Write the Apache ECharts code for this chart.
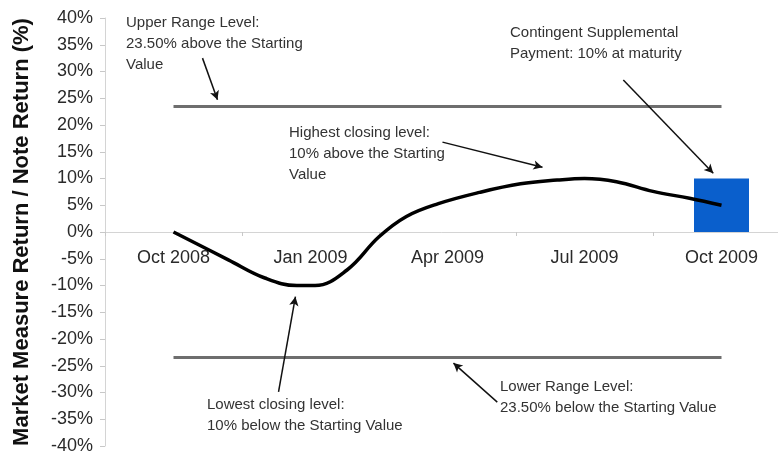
<!DOCTYPE html>
<html>
<head>
<meta charset="utf-8">
<script src="https://cdn.jsdelivr.net/npm/echarts@6/dist/echarts.min.js"></script>
<style>
  html, body { margin: 0; padding: 0; background: #fff; }
  #chart { width: 778px; height: 457px; }
</style>
</head>
<body>
<div id="chart"></div>
<script>
// quarter labels on the x axis
var quarters = ['Oct 2008', 'Jan 2009', 'Apr 2009', 'Jul 2009', 'Oct 2009']
// hypothetical market measure path, months since Oct 2008 -> return (%)
var pathMonths = [0, 1.2, 2.0, 2.7, 3.1, 3.8, 4.5, 5.1, 5.8, 6.7, 7.6, 8.4, 9.0, 9.7, 10.5, 11.3, 12]
var pathReturns = [0, -5.2, -8.6, -10, -10, -7.1, -0.9, 2.9, 5.3, 7.4, 9.0, 9.7, 10, 9.4, 7.6, 6.3, 5]
// contingent supplemental payment bar
var paymentValues = [null, null, null, null, 10]
var upperRange = 23.5
var lowerRange = -23.5
var rangeStart = 0
var rangeEnd = 12
var yTicks = { min: -40, max: 40, step: 5 }

var FONT = '"Liberation Sans", Arial, sans-serif'
var PLOT_H = 428

var chart = echarts.init(document.getElementById('chart'))

var pathData = pathMonths.map(function(m, i) {
  return [m, pathReturns[i]]
})

// arrow helper, coords in (months, %)
function arrow(x1, y1, x2, y2) {
  return [{ coord: [x1, y1] }, { coord: [x2, y2] }]
}

var textStyle = {
  fontFamily: FONT,
  fontSize: 15,
  fill: '#333',
  lineHeight: 21
}

function note(left, top, text) {
  return {
    type: 'text',
    left: left,
    top: top,
    style: Object.assign({ text: text }, textStyle)
  }
}

chart.setOption({
  animation: false,
  grid: {
    left: 105,
    top: 18,
    width: 685,
    height: PLOT_H,
    outerBoundsMode: 'none',
    containLabel: false
  },
  xAxis: [{
    type: 'category',
    data: quarters,
    boundaryGap: true,
    offset: -PLOT_H / 2, // sit on the 0% line
    axisLine: { onZero: false, lineStyle: { color: '#d4d4d4', width: 1 } },
    axisTick: { show: true, length: 4, lineStyle: { color: '#c8c8c8' } },
    axisLabel: {
      fontFamily: FONT,
      fontSize: 18,
      color: '#2a2a2a',
      margin: 17
    },
    splitLine: { show: false }
  }, {
    type: 'value',
    min: -1.5,
    max: 13.5,
    show: false
  }],
  yAxis: {
    type: 'value',
    min: yTicks.min,
    max: yTicks.max,
    interval: yTicks.step,
    name: 'Market Measure Return / Note Return (%)',
    nameLocation: 'middle',
    nameGap: 72,
    nameTextStyle: {
      fontFamily: FONT,
      fontSize: 22,
      fontWeight: 'bold',
      color: '#111'
    },
    axisLine: { show: true, onZero: false, lineStyle: { color: '#d4d4d4' } },
    axisTick: { show: true, length: 5, lineStyle: { color: '#c8c8c8' } },
    axisLabel: {
      fontFamily: FONT,
      fontSize: 18,
      color: '#2a2a2a',
      margin: 12,
      formatter: '{value}%'
    },
    splitLine: { show: false }
  },
  series: [{
    type: 'bar',
    xAxisIndex: 0,
    data: paymentValues,
    barWidth: 55,
    itemStyle: { color: '#0a5fcc' },
    z: 1
  }, {
    type: 'line',
    xAxisIndex: 1,
    data: pathData,
    smooth: 0.4,
    showSymbol: false,
    lineStyle: { color: '#000', width: 3.5 },
    z: 5,
    markLine: {
      silent: true,
      symbol: 'none',
      label: { show: false },
      lineStyle: { color: '#6e6e6e', width: 3, type: 'solid' },
      data: [
        [{ coord: [rangeStart, upperRange] }, { coord: [rangeEnd, upperRange] }],
        [{ coord: [rangeStart, lowerRange] }, { coord: [rangeEnd, lowerRange] }]
      ]
    }
  }, {
    type: 'line',
    xAxisIndex: 1,
    data: [],
    markLine: {
      silent: true,
      symbol: ['none', 'arrow'],
      symbolSize: [7, 9],
      label: { show: false },
      lineStyle: { color: '#111', width: 1.5, type: 'solid' },
      data: [
        arrow(0.635, 32.5, 0.963, 24.7),
        arrow(5.89, 16.8, 8.08, 12.1),
        arrow(9.85, 28.4, 11.82, 11.0),
        arrow(2.30, -29.9, 2.67, -12.1),
        arrow(7.09, -31.8, 6.13, -24.5)
      ]
    }
  }],
  graphic: [
    note(126, 12, 'Upper Range Level:\n23.50% above the Starting\nValue'),
    note(289, 122, 'Highest closing level:\n10% above the Starting\nValue'),
    note(510, 22, 'Contingent Supplemental\nPayment: 10% at maturity'),
    note(207, 394, 'Lowest closing level:\n10% below the Starting Value'),
    note(500, 376, 'Lower Range Level:\n23.50% below the Starting Value')
  ]
})
</script>
</body>
</html>
